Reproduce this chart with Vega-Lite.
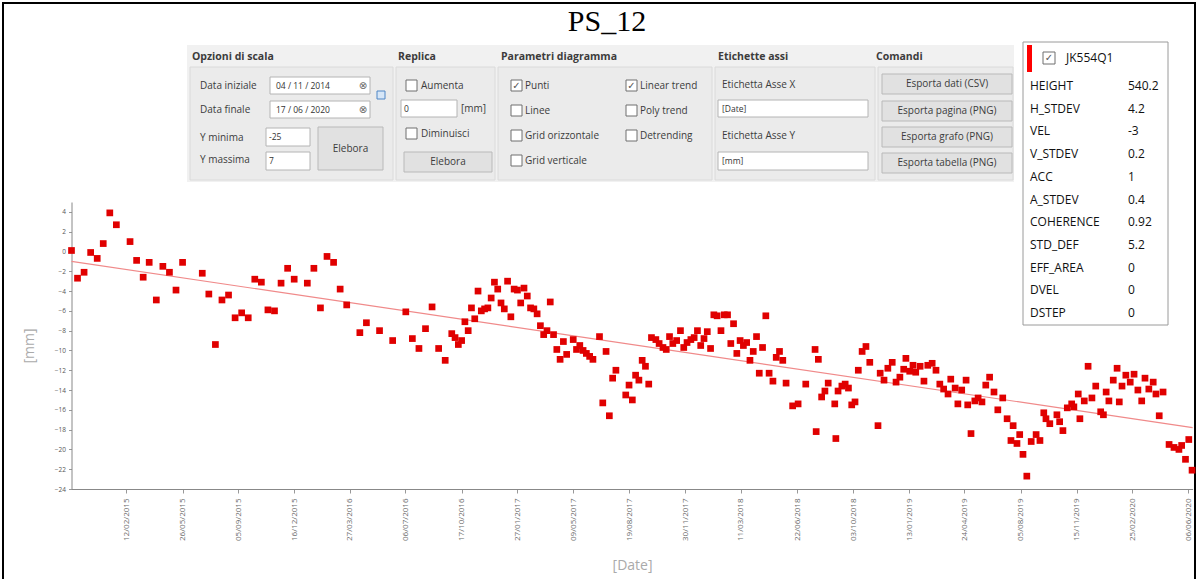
{
  "$schema": "https://vega.github.io/schema/vega-lite/v6.json",
  "width": 1192,
  "height": 578,
  "autosize": {"type": "none"},
  "padding": {"left": 3, "top": 3, "right": 3, "bottom": -2},
  "background": "white",
  "config": {"view": {"stroke": "#000000", "strokeWidth": 2}},
  "title": {"text": "PS_12", "font": "Liberation Serif", "fontSize": 30, "fontWeight": "normal", "color": "#000000", "anchor": "middle", "frame": "group", "offset": -34, "dx": 8},
  "datasets": {
    "ps": [
      {"date": "2014-11-04", "mm": 0.1}, {"date": "2014-11-15", "mm": -2.7}, {"date": "2014-11-27", "mm": -2.1}, {"date": "2014-12-09", "mm": -0.1},
      {"date": "2014-12-21", "mm": -0.7}, {"date": "2015-01-01", "mm": 0.8}, {"date": "2015-01-13", "mm": 3.9}, {"date": "2015-01-25", "mm": 2.7},
      {"date": "2015-02-19", "mm": 1.0}, {"date": "2015-03-03", "mm": -0.9}, {"date": "2015-03-15", "mm": -2.6}, {"date": "2015-03-26", "mm": -1.1},
      {"date": "2015-04-08", "mm": -4.9}, {"date": "2015-04-20", "mm": -1.5}, {"date": "2015-05-02", "mm": -2.1}, {"date": "2015-05-14", "mm": -3.9},
      {"date": "2015-05-26", "mm": -1.1}, {"date": "2015-07-01", "mm": -2.2}, {"date": "2015-07-13", "mm": -4.3}, {"date": "2015-07-25", "mm": -9.4},
      {"date": "2015-08-06", "mm": -4.9}, {"date": "2015-08-18", "mm": -4.4}, {"date": "2015-08-30", "mm": -6.7}, {"date": "2015-09-11", "mm": -6.2},
      {"date": "2015-09-23", "mm": -6.7}, {"date": "2015-10-05", "mm": -2.8}, {"date": "2015-10-17", "mm": -3.1}, {"date": "2015-10-29", "mm": -5.9},
      {"date": "2015-11-10", "mm": -6.0}, {"date": "2015-11-22", "mm": -3.2}, {"date": "2015-12-04", "mm": -1.7}, {"date": "2015-12-16", "mm": -2.8},
      {"date": "2016-01-09", "mm": -3.2}, {"date": "2016-01-21", "mm": -1.7}, {"date": "2016-02-02", "mm": -5.7}, {"date": "2016-02-14", "mm": -0.5},
      {"date": "2016-02-26", "mm": -1.1}, {"date": "2016-03-09", "mm": -3.8}, {"date": "2016-03-21", "mm": -5.4}, {"date": "2016-04-14", "mm": -8.2},
      {"date": "2016-04-26", "mm": -7.2}, {"date": "2016-05-20", "mm": -8.0}, {"date": "2016-06-13", "mm": -9.0}, {"date": "2016-07-07", "mm": -6.1},
      {"date": "2016-07-19", "mm": -8.8}, {"date": "2016-07-31", "mm": -9.8}, {"date": "2016-08-12", "mm": -7.8}, {"date": "2016-08-24", "mm": -5.6},
      {"date": "2016-09-05", "mm": -9.8}, {"date": "2016-09-17", "mm": -11.0}, {"date": "2016-09-29", "mm": -8.3}, {"date": "2016-10-05", "mm": -8.7},
      {"date": "2016-10-11", "mm": -9.4}, {"date": "2016-10-17", "mm": -9.0}, {"date": "2016-10-23", "mm": -7.1}, {"date": "2016-10-29", "mm": -8.0},
      {"date": "2016-11-04", "mm": -5.7}, {"date": "2016-11-10", "mm": -6.8}, {"date": "2016-11-16", "mm": -4.0}, {"date": "2016-11-22", "mm": -6.0},
      {"date": "2016-11-28", "mm": -5.8}, {"date": "2016-12-04", "mm": -5.7}, {"date": "2016-12-10", "mm": -4.7}, {"date": "2016-12-16", "mm": -3.1},
      {"date": "2016-12-22", "mm": -3.8}, {"date": "2016-12-28", "mm": -5.2}, {"date": "2017-01-03", "mm": -5.8}, {"date": "2017-01-09", "mm": -3.0},
      {"date": "2017-01-15", "mm": -6.6}, {"date": "2017-01-21", "mm": -3.8}, {"date": "2017-01-27", "mm": -3.9}, {"date": "2017-02-02", "mm": -5.2},
      {"date": "2017-02-08", "mm": -3.7}, {"date": "2017-02-14", "mm": -4.5}, {"date": "2017-02-20", "mm": -5.7}, {"date": "2017-02-26", "mm": -5.8},
      {"date": "2017-03-04", "mm": -6.3}, {"date": "2017-03-10", "mm": -7.5}, {"date": "2017-03-16", "mm": -8.4}, {"date": "2017-03-22", "mm": -8.0},
      {"date": "2017-03-28", "mm": -5.1}, {"date": "2017-04-03", "mm": -8.4}, {"date": "2017-04-09", "mm": -9.9}, {"date": "2017-04-15", "mm": -10.9},
      {"date": "2017-04-21", "mm": -9.1}, {"date": "2017-04-27", "mm": -10.4}, {"date": "2017-05-09", "mm": -8.9}, {"date": "2017-05-15", "mm": -9.9},
      {"date": "2017-05-21", "mm": -9.5}, {"date": "2017-05-27", "mm": -10.0}, {"date": "2017-06-02", "mm": -10.3}, {"date": "2017-06-08", "mm": -10.6},
      {"date": "2017-06-14", "mm": -10.9}, {"date": "2017-06-26", "mm": -8.6}, {"date": "2017-07-02", "mm": -15.3}, {"date": "2017-07-08", "mm": -10.1},
      {"date": "2017-07-14", "mm": -16.6}, {"date": "2017-07-20", "mm": -12.8}, {"date": "2017-07-26", "mm": -12.0}, {"date": "2017-08-13", "mm": -14.5},
      {"date": "2017-08-19", "mm": -13.5}, {"date": "2017-08-25", "mm": -15.0}, {"date": "2017-08-31", "mm": -12.5}, {"date": "2017-09-06", "mm": -13.0},
      {"date": "2017-09-12", "mm": -11.0}, {"date": "2017-09-18", "mm": -11.6}, {"date": "2017-09-24", "mm": -13.4}, {"date": "2017-09-29", "mm": -8.7},
      {"date": "2017-10-07", "mm": -8.9}, {"date": "2017-10-13", "mm": -9.3}, {"date": "2017-10-20", "mm": -9.7}, {"date": "2017-10-26", "mm": -9.9},
      {"date": "2017-11-01", "mm": -8.6}, {"date": "2017-11-07", "mm": -9.3}, {"date": "2017-11-14", "mm": -9.0}, {"date": "2017-11-21", "mm": -8.0},
      {"date": "2017-11-27", "mm": -9.7}, {"date": "2017-12-03", "mm": -9.2}, {"date": "2017-12-10", "mm": -8.9}, {"date": "2017-12-16", "mm": -8.7},
      {"date": "2017-12-22", "mm": -8.0}, {"date": "2017-12-28", "mm": -9.5}, {"date": "2018-01-03", "mm": -8.8}, {"date": "2018-01-09", "mm": -8.1},
      {"date": "2018-01-15", "mm": -9.8}, {"date": "2018-01-21", "mm": -6.4}, {"date": "2018-01-27", "mm": -6.5}, {"date": "2018-02-03", "mm": -8.0},
      {"date": "2018-02-09", "mm": -6.4}, {"date": "2018-02-15", "mm": -6.4}, {"date": "2018-02-21", "mm": -9.3}, {"date": "2018-02-26", "mm": -7.3},
      {"date": "2018-03-04", "mm": -10.3}, {"date": "2018-03-10", "mm": -9.0}, {"date": "2018-03-16", "mm": -9.5}, {"date": "2018-03-22", "mm": -9.2},
      {"date": "2018-03-28", "mm": -11.0}, {"date": "2018-04-03", "mm": -10.1}, {"date": "2018-04-09", "mm": -8.6}, {"date": "2018-04-14", "mm": -12.3},
      {"date": "2018-04-20", "mm": -9.7}, {"date": "2018-04-26", "mm": -6.5}, {"date": "2018-05-02", "mm": -12.3}, {"date": "2018-05-09", "mm": -13.1},
      {"date": "2018-05-15", "mm": -10.7}, {"date": "2018-05-21", "mm": -10.1}, {"date": "2018-05-27", "mm": -11.0}, {"date": "2018-06-02", "mm": -13.3},
      {"date": "2018-06-14", "mm": -15.6}, {"date": "2018-06-24", "mm": -15.4}, {"date": "2018-07-08", "mm": -13.4}, {"date": "2018-07-25", "mm": -9.9},
      {"date": "2018-07-27", "mm": -18.2}, {"date": "2018-07-31", "mm": -10.9}, {"date": "2018-08-06", "mm": -14.7}, {"date": "2018-08-12", "mm": -14.1},
      {"date": "2018-08-18", "mm": -13.3}, {"date": "2018-08-30", "mm": -15.4}, {"date": "2018-09-01", "mm": -18.9}, {"date": "2018-09-05", "mm": -14.1},
      {"date": "2018-09-12", "mm": -13.6}, {"date": "2018-09-18", "mm": -13.4}, {"date": "2018-09-24", "mm": -13.8}, {"date": "2018-09-30", "mm": -15.5},
      {"date": "2018-10-06", "mm": -15.2}, {"date": "2018-10-12", "mm": -12.0}, {"date": "2018-10-19", "mm": -10.1}, {"date": "2018-10-26", "mm": -9.6},
      {"date": "2018-11-02", "mm": -11.2}, {"date": "2018-11-17", "mm": -17.6}, {"date": "2018-11-21", "mm": -12.3}, {"date": "2018-11-28", "mm": -13.0},
      {"date": "2018-12-05", "mm": -11.8}, {"date": "2018-12-13", "mm": -11.2}, {"date": "2018-12-20", "mm": -13.2}, {"date": "2018-12-27", "mm": -12.7},
      {"date": "2019-01-03", "mm": -11.9}, {"date": "2019-01-07", "mm": -10.8}, {"date": "2019-01-14", "mm": -12.1}, {"date": "2019-01-20", "mm": -11.5},
      {"date": "2019-01-25", "mm": -12.2}, {"date": "2019-02-02", "mm": -11.6}, {"date": "2019-02-09", "mm": -13.1}, {"date": "2019-02-16", "mm": -11.5},
      {"date": "2019-02-24", "mm": -11.3}, {"date": "2019-03-03", "mm": -12.0}, {"date": "2019-03-10", "mm": -13.4}, {"date": "2019-03-17", "mm": -13.9},
      {"date": "2019-03-25", "mm": -14.4}, {"date": "2019-03-30", "mm": -12.9}, {"date": "2019-04-07", "mm": -13.8}, {"date": "2019-04-12", "mm": -15.4},
      {"date": "2019-04-19", "mm": -14.0}, {"date": "2019-04-27", "mm": -13.0}, {"date": "2019-04-30", "mm": -15.5}, {"date": "2019-05-06", "mm": -18.4},
      {"date": "2019-05-13", "mm": -15.1}, {"date": "2019-05-19", "mm": -14.8}, {"date": "2019-05-26", "mm": -15.2}, {"date": "2019-06-02", "mm": -13.5},
      {"date": "2019-06-09", "mm": -12.7}, {"date": "2019-06-17", "mm": -14.2}, {"date": "2019-06-24", "mm": -16.0}, {"date": "2019-07-03", "mm": -14.8},
      {"date": "2019-07-11", "mm": -16.9}, {"date": "2019-07-18", "mm": -19.1}, {"date": "2019-07-22", "mm": -17.6}, {"date": "2019-07-29", "mm": -19.4},
      {"date": "2019-08-03", "mm": -18.5}, {"date": "2019-08-09", "mm": -20.5}, {"date": "2019-08-16", "mm": -22.7}, {"date": "2019-08-24", "mm": -19.2},
      {"date": "2019-09-02", "mm": -18.5}, {"date": "2019-09-09", "mm": -19.1}, {"date": "2019-09-16", "mm": -16.3}, {"date": "2019-09-20", "mm": -16.9},
      {"date": "2019-09-27", "mm": -17.4}, {"date": "2019-10-10", "mm": -16.5}, {"date": "2019-10-15", "mm": -17.2}, {"date": "2019-10-21", "mm": -18.1},
      {"date": "2019-10-29", "mm": -15.8}, {"date": "2019-11-06", "mm": -15.4}, {"date": "2019-11-10", "mm": -15.7}, {"date": "2019-11-18", "mm": -14.4},
      {"date": "2019-11-21", "mm": -16.9}, {"date": "2019-11-29", "mm": -15.1}, {"date": "2019-12-06", "mm": -11.6}, {"date": "2019-12-13", "mm": -14.8},
      {"date": "2019-12-20", "mm": -13.6}, {"date": "2019-12-29", "mm": -16.2}, {"date": "2020-01-03", "mm": -16.5}, {"date": "2020-01-08", "mm": -14.2},
      {"date": "2020-01-13", "mm": -15.1}, {"date": "2020-01-21", "mm": -13.0}, {"date": "2020-01-28", "mm": -11.8}, {"date": "2020-02-01", "mm": -15.2},
      {"date": "2020-02-06", "mm": -13.6}, {"date": "2020-02-13", "mm": -12.5}, {"date": "2020-02-21", "mm": -13.2}, {"date": "2020-02-28", "mm": -12.4},
      {"date": "2020-03-06", "mm": -14.0}, {"date": "2020-03-13", "mm": -15.1}, {"date": "2020-03-19", "mm": -12.8}, {"date": "2020-03-26", "mm": -13.9},
      {"date": "2020-04-03", "mm": -13.2}, {"date": "2020-04-08", "mm": -14.4}, {"date": "2020-04-14", "mm": -16.6}, {"date": "2020-04-21", "mm": -14.2},
      {"date": "2020-05-02", "mm": -19.5}, {"date": "2020-05-11", "mm": -19.8}, {"date": "2020-05-20", "mm": -20.0}, {"date": "2020-05-25", "mm": -19.6},
      {"date": "2020-06-01", "mm": -21.0}, {"date": "2020-06-07", "mm": -19.0}, {"date": "2020-06-13", "mm": -22.1}
    ],
    "trend": [
      {"date": "2014-11-04", "mm": -1.0},
      {"date": "2020-06-14", "mm": -17.8}
    ],
    "params": [
      {"name": "HEIGHT", "value": "540.2"},
      {"name": "H_STDEV", "value": "4.2"},
      {"name": "VEL", "value": "-3"},
      {"name": "V_STDEV", "value": "0.2"},
      {"name": "ACC", "value": "1"},
      {"name": "A_STDEV", "value": "0.4"},
      {"name": "COHERENCE", "value": "0.92"},
      {"name": "STD_DEF", "value": "5.2"},
      {"name": "EFF_AREA", "value": "0"},
      {"name": "DVEL", "value": "0"},
      {"name": "DSTEP", "value": "0"}
    ],
    "ui": [
      {"kind": "panel", "x0": 187, "x1": 1014, "y0": 45, "y1": 182},
      {"kind": "section", "x0": 190, "x1": 393, "y0": 67, "y1": 180},
      {"kind": "section", "x0": 396, "x1": 495, "y0": 67, "y1": 180},
      {"kind": "section", "x0": 498, "x1": 712, "y0": 67, "y1": 180},
      {"kind": "section", "x0": 715, "x1": 875, "y0": 67, "y1": 180},
      {"kind": "section", "x0": 878, "x1": 1013, "y0": 67, "y1": 180},
      {"kind": "input", "x0": 270, "x1": 370, "y0": 77, "y1": 94},
      {"kind": "input", "x0": 270, "x1": 370, "y0": 101, "y1": 118},
      {"kind": "input", "x0": 266, "x1": 310, "y0": 128, "y1": 146},
      {"kind": "input", "x0": 266, "x1": 310, "y0": 152, "y1": 170},
      {"kind": "input", "x0": 401, "x1": 457, "y0": 100, "y1": 117},
      {"kind": "input", "x0": 718, "x1": 868, "y0": 100, "y1": 117},
      {"kind": "input", "x0": 718, "x1": 868, "y0": 152, "y1": 170},
      {"kind": "button", "x0": 318, "x1": 383, "y0": 127, "y1": 170, "text": "Elebora"},
      {"kind": "button", "x0": 404, "x1": 492, "y0": 152, "y1": 172, "text": "Elebora"},
      {"kind": "button", "x0": 882, "x1": 1012, "y0": 74, "y1": 94, "text": "Esporta dati (CSV)"},
      {"kind": "button", "x0": 882, "x1": 1012, "y0": 101, "y1": 121, "text": "Esporta pagina (PNG)"},
      {"kind": "button", "x0": 882, "x1": 1012, "y0": 127, "y1": 147, "text": "Esporta grafo (PNG)"},
      {"kind": "button", "x0": 882, "x1": 1012, "y0": 153, "y1": 173, "text": "Esporta tabella (PNG)"},
      {"kind": "box", "x0": 406, "x1": 417, "y0": 80, "y1": 91},
      {"kind": "box", "x0": 406, "x1": 417, "y0": 128, "y1": 139},
      {"kind": "box", "x0": 511, "x1": 522, "y0": 80, "y1": 91},
      {"kind": "box", "x0": 511, "x1": 522, "y0": 105, "y1": 116},
      {"kind": "box", "x0": 511, "x1": 522, "y0": 130, "y1": 141},
      {"kind": "box", "x0": 511, "x1": 522, "y0": 155, "y1": 166},
      {"kind": "box", "x0": 626, "x1": 637, "y0": 80, "y1": 91},
      {"kind": "box", "x0": 626, "x1": 637, "y0": 105, "y1": 116},
      {"kind": "box", "x0": 626, "x1": 637, "y0": 130, "y1": 141},
      {"kind": "icon", "x0": 377, "x1": 385, "y0": 91, "y1": 99},
      {"kind": "legend", "x0": 1023, "x1": 1168, "y0": 42, "y1": 325},
      {"kind": "swatch", "x0": 1027, "x1": 1032, "y0": 45, "y1": 72},
      {"kind": "box", "x0": 1043, "x1": 1055, "y0": 52, "y1": 64},
      {"kind": "head", "x0": 192, "y0": 57, "text": "Opzioni di scala"},
      {"kind": "head", "x0": 398, "y0": 57, "text": "Replica"},
      {"kind": "head", "x0": 501, "y0": 57, "text": "Parametri diagramma"},
      {"kind": "head", "x0": 718, "y0": 57, "text": "Etichette assi"},
      {"kind": "head", "x0": 876, "y0": 57, "text": "Comandi"},
      {"kind": "label", "x0": 200, "y0": 86, "text": "Data iniziale"},
      {"kind": "label", "x0": 200, "y0": 110, "text": "Data finale"},
      {"kind": "label", "x0": 200, "y0": 138, "text": "Y minima"},
      {"kind": "label", "x0": 200, "y0": 160, "text": "Y massima"},
      {"kind": "label", "x0": 421, "y0": 86, "text": "Aumenta"},
      {"kind": "label", "x0": 421, "y0": 134, "text": "Diminuisci"},
      {"kind": "label", "x0": 461, "y0": 109, "text": "[mm]"},
      {"kind": "label", "x0": 525, "y0": 86, "text": "Punti"},
      {"kind": "label", "x0": 525, "y0": 111, "text": "Linee"},
      {"kind": "label", "x0": 525, "y0": 136, "text": "Grid orizzontale"},
      {"kind": "label", "x0": 525, "y0": 161, "text": "Grid verticale"},
      {"kind": "label", "x0": 640, "y0": 86, "text": "Linear trend"},
      {"kind": "label", "x0": 640, "y0": 111, "text": "Poly trend"},
      {"kind": "label", "x0": 640, "y0": 136, "text": "Detrending"},
      {"kind": "label", "x0": 722, "y0": 85, "text": "Etichetta Asse X"},
      {"kind": "label", "x0": 722, "y0": 136, "text": "Etichetta Asse Y"},
      {"kind": "field", "x0": 276, "y0": 86, "text": "04 / 11 / 2014"},
      {"kind": "field", "x0": 276, "y0": 110, "text": "17 / 06 / 2020"},
      {"kind": "field", "x0": 269, "y0": 137, "text": "-25"},
      {"kind": "field", "x0": 269, "y0": 161, "text": "7"},
      {"kind": "field", "x0": 404, "y0": 109, "text": "0"},
      {"kind": "field", "x0": 722, "y0": 109, "text": "[Date]"},
      {"kind": "field", "x0": 722, "y0": 161, "text": "[mm]"},
      {"kind": "clear", "x0": 363, "y0": 86, "text": "⊗"},
      {"kind": "clear", "x0": 363, "y0": 110, "text": "⊗"},
      {"kind": "tick", "x0": 516.5, "y0": 85.5, "text": "✓"},
      {"kind": "tick", "x0": 631.5, "y0": 85.5, "text": "✓"},
      {"kind": "tick", "x0": 1049, "y0": 58, "text": "✓"},
      {"kind": "id", "x0": 1066, "y0": 58, "text": "JK554Q1"}
    ]
  },
  "layer": [
    {
      "layer": [
        {
          "data": {"name": "trend"},
          "mark": {"type": "line", "color": "#f08a8a", "strokeWidth": 1.2},
          "encoding": {
            "x": {"field": "date", "type": "temporal"},
            "y": {"field": "mm", "type": "quantitative"}
          }
        },
        {
          "data": {"name": "ps"},
          "mark": {"type": "square", "size": 45, "color": "#e00000", "opacity": 1},
          "encoding": {
            "x": {
              "field": "date", "type": "temporal",
              "scale": {"domain": [{"year": 2014, "month": 11, "date": 4}, {"year": 2020, "month": 6, "date": 14}], "range": [68.5, 1189.6]},
              "axis": {
                "values": [
                  {"year": 2015, "month": 2, "date": 12}, {"year": 2015, "month": 5, "date": 26},
                  {"year": 2015, "month": 9, "date": 5}, {"year": 2015, "month": 12, "date": 16},
                  {"year": 2016, "month": 3, "date": 27}, {"year": 2016, "month": 7, "date": 6},
                  {"year": 2016, "month": 10, "date": 17}, {"year": 2017, "month": 1, "date": 27},
                  {"year": 2017, "month": 5, "date": 9}, {"year": 2017, "month": 8, "date": 19},
                  {"year": 2017, "month": 11, "date": 30}, {"year": 2018, "month": 3, "date": 11},
                  {"year": 2018, "month": 6, "date": 22}, {"year": 2018, "month": 10, "date": 3},
                  {"year": 2019, "month": 1, "date": 13}, {"year": 2019, "month": 4, "date": 24},
                  {"year": 2019, "month": 8, "date": 5}, {"year": 2019, "month": 11, "date": 15},
                  {"year": 2020, "month": 2, "date": 25}, {"year": 2020, "month": 6, "date": 6}
                ],
                "format": "%d/%m/%Y",
                "labelOverlap": false,
                "labelAngle": -90,
                "labelFont": "Open Sans",
                "labelFontSize": 8,
                "labelColor": "#6a6a6a",
                "labelPadding": 5,
                "tickSize": 4,
                "tickColor": "#999999",
                "domainColor": "#888888",
                "grid": false,
                "offset": -92,
                "title": "[Date]",
                "titleFont": "Open Sans",
                "titleFontSize": 14,
                "titleFontWeight": "normal",
                "titleColor": "#aaaaaa",
                "titlePadding": 18
              }
            },
            "y": {
              "field": "mm", "type": "quantitative",
              "scale": {"domain": [-24, 5], "range": [486, 199], "nice": false, "zero": false},
              "axis": {
                "values": [-24, -23, -22, -21, -20, -19, -18, -17, -16, -15, -14, -13, -12, -11, -10, -9, -8, -7, -6, -5, -4, -3, -2, -1, 0, 1, 2, 3, 4],
                "labelExpr": "datum.value % 2 === 0 ? datum.label : ''",
                "labelFont": "Open Sans",
                "labelFontSize": 6.5,
                "labelColor": "#555555",
                "labelPadding": 3,
                "tickSize": 3,
                "tickColor": "#999999",
                "domainColor": "#888888",
                "grid": false,
                "offset": -68.5,
                "title": "[mm]",
                "titleFont": "Open Sans",
                "titleFontSize": 14,
                "titleFontWeight": "normal",
                "titleColor": "#aaaaaa",
                "titlePadding": 18
              }
            }
          }
        }
      ]
    },
    {
      "data": {"name": "ui"},
      "encoding": {
        "x": {"field": "x0", "type": "quantitative", "scale": {"domain": [0, 1198], "range": [-3, 1195], "nice": false, "zero": false}, "axis": null},
        "y": {"field": "y0", "type": "quantitative", "scale": {"domain": [0, 579], "range": [-3, 576], "nice": false, "zero": false}, "axis": null}
      },
      "layer": [
        {"transform": [{"filter": "datum.kind === 'panel'"}], "mark": {"type": "rect", "fill": "#f1f1f1"}, "encoding": {"x2": {"field": "x1"}, "y2": {"field": "y1"}}},
        {"transform": [{"filter": "datum.kind === 'section'"}], "mark": {"type": "rect", "fill": "#ebebeb", "stroke": "#dadada", "strokeWidth": 1}, "encoding": {"x2": {"field": "x1"}, "y2": {"field": "y1"}}},
        {"transform": [{"filter": "datum.kind === 'input'"}], "mark": {"type": "rect", "fill": "#ffffff", "stroke": "#b4b4b4", "strokeWidth": 1}, "encoding": {"x2": {"field": "x1"}, "y2": {"field": "y1"}}},
        {"transform": [{"filter": "datum.kind === 'button'"}], "mark": {"type": "rect", "fill": "#e1e1e1", "stroke": "#b9b9b9", "strokeWidth": 1}, "encoding": {"x2": {"field": "x1"}, "y2": {"field": "y1"}}},
        {"transform": [{"filter": "datum.kind === 'legend'"}], "mark": {"type": "rect", "fill": "#ffffff", "stroke": "#9a9a9a", "strokeWidth": 1}, "encoding": {"x2": {"field": "x1"}, "y2": {"field": "y1"}}},
        {"transform": [{"filter": "datum.kind === 'box'"}], "mark": {"type": "rect", "fill": "#ffffff", "stroke": "#6f6f6f", "strokeWidth": 1}, "encoding": {"x2": {"field": "x1"}, "y2": {"field": "y1"}}},
        {"transform": [{"filter": "datum.kind === 'icon'"}], "mark": {"type": "rect", "fill": "#d6e6f7", "stroke": "#4f86c6", "strokeWidth": 1}, "encoding": {"x2": {"field": "x1"}, "y2": {"field": "y1"}}},
        {"transform": [{"filter": "datum.kind === 'swatch'"}], "mark": {"type": "rect", "fill": "#ff0000"}, "encoding": {"x2": {"field": "x1"}, "y2": {"field": "y1"}}},
        {"transform": [{"filter": "datum.kind === 'head'"}], "mark": {"type": "text", "align": "left", "baseline": "middle", "font": "Open Sans", "fontSize": 10.5, "fontWeight": "bold", "color": "#3c3c3c"}, "encoding": {"text": {"field": "text"}}},
        {"transform": [{"filter": "datum.kind === 'label'"}], "mark": {"type": "text", "align": "left", "baseline": "middle", "font": "Open Sans", "fontSize": 10, "color": "#3c3c3c"}, "encoding": {"text": {"field": "text"}}},
        {"transform": [{"filter": "datum.kind === 'field'"}], "mark": {"type": "text", "align": "left", "baseline": "middle", "font": "Open Sans", "fontSize": 8.5, "color": "#333333"}, "encoding": {"text": {"field": "text"}}},
        {"transform": [{"filter": "datum.kind === 'clear'"}], "mark": {"type": "text", "align": "center", "baseline": "middle", "font": "DejaVu Sans", "fontSize": 10, "color": "#666666"}, "encoding": {"text": {"field": "text"}}},
        {"transform": [{"filter": "datum.kind === 'tick'"}], "mark": {"type": "text", "align": "center", "baseline": "middle", "font": "DejaVu Sans", "fontSize": 10, "color": "#555555"}, "encoding": {"text": {"field": "text"}}},
        {"transform": [{"filter": "datum.kind === 'id'"}], "mark": {"type": "text", "align": "left", "baseline": "middle", "font": "Open Sans", "fontSize": 12, "color": "#111111"}, "encoding": {"text": {"field": "text"}}},
        {
          "transform": [{"filter": "datum.kind === 'button'"}, {"calculate": "(datum.x0 + datum.x1) / 2", "as": "xc"}, {"calculate": "(datum.y0 + datum.y1) / 2", "as": "yc"}],
          "mark": {"type": "text", "align": "center", "baseline": "middle", "font": "Open Sans", "fontSize": 10, "color": "#3c3c3c"},
          "encoding": {
            "x": {"field": "xc", "type": "quantitative", "scale": {"domain": [0, 1198], "range": [-3, 1195], "nice": false, "zero": false}, "axis": null},
            "y": {"field": "yc", "type": "quantitative", "scale": {"domain": [0, 579], "range": [-3, 576], "nice": false, "zero": false}, "axis": null},
            "text": {"field": "text"}
          }
        }
      ]
    },
    {
      "data": {"name": "params"},
      "encoding": {
        "y": {"field": "name", "type": "nominal", "sort": null, "scale": {"type": "point", "domain": ["HEIGHT", "H_STDEV", "VEL", "V_STDEV", "ACC", "A_STDEV", "COHERENCE", "STD_DEF", "EFF_AREA", "DVEL", "DSTEP"], "range": [83, 310], "padding": 0}, "axis": null}
      },
      "layer": [
        {
          "mark": {"type": "text", "align": "left", "baseline": "middle", "font": "Open Sans", "fontSize": 12, "color": "#111111"},
          "encoding": {
            "x": {"datum": "name", "type": "nominal", "scale": {"type": "point", "domain": ["name", "value"], "range": [1027, 1125], "padding": 0}, "axis": null},
            "text": {"field": "name"}
          }
        },
        {
          "mark": {"type": "text", "align": "left", "baseline": "middle", "font": "Open Sans", "fontSize": 12, "color": "#111111"},
          "encoding": {
            "x": {"datum": "value", "type": "nominal"},
            "text": {"field": "value"}
          }
        }
      ]
    }
  ],
  "resolve": {"scale": {"x": "independent", "y": "independent"}}
}
